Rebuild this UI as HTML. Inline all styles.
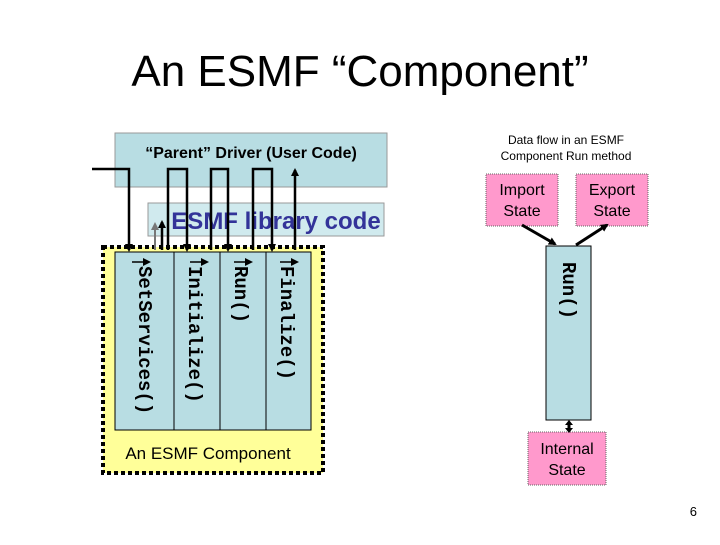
<!DOCTYPE html>
<html><head><style>
body{margin:0;width:720px;height:540px;background:#fff;overflow:hidden;font-family:"Liberation Sans",sans-serif}
</style></head><body>
<svg width="720" height="540" xmlns="http://www.w3.org/2000/svg" font-family="Liberation Sans, sans-serif">
<defs>
<marker id="a" markerWidth="8" markerHeight="8" refX="6" refY="4" orient="auto" markerUnits="userSpaceOnUse"><path d="M0,0L8,4L0,8z" fill="#000"/></marker>
<marker id="g" markerWidth="8" markerHeight="8" refX="6" refY="4" orient="auto" markerUnits="userSpaceOnUse"><path d="M0,0L8,4L0,8z" fill="#777"/></marker>
</defs>
<text x="360" y="86" font-size="44" text-anchor="middle">An ESMF “Component”</text>
<!-- yellow component -->
<rect x="103" y="247" width="220" height="226" fill="#ffff99" stroke="#000" stroke-width="4" stroke-dasharray="4,3"/>
<rect x="115" y="252" width="196" height="178" fill="#b8dde3" stroke="#000" stroke-width="1"/>
<line x1="174" y1="252" x2="174" y2="430" stroke="#000"/>
<line x1="220" y1="252" x2="220" y2="430" stroke="#000"/>
<line x1="266" y1="252" x2="266" y2="430" stroke="#000"/>
<text x="208" y="459" font-size="17" text-anchor="middle">An ESMF Component</text>
<!-- parent -->
<rect x="115" y="133" width="272" height="54" fill="#b8dde3" stroke="#999"/>
<text x="251" y="158" font-size="16" font-weight="bold" text-anchor="middle">“Parent” Driver (User Code)</text>
<rect x="148" y="203" width="236" height="33" fill="#d0eaee" stroke="#999"/>
<text x="276" y="229" font-size="24" font-weight="bold" fill="#333399" text-anchor="middle">ESMF library code</text>
<!-- right -->
<text x="566" y="144" font-size="12" text-anchor="middle">Data flow in an ESMF</text>
<text x="566" y="160" font-size="12" text-anchor="middle">Component Run method</text>
<rect x="486" y="174" width="72" height="52" fill="#ff99cc" stroke="#666" stroke-dasharray="1,1"/>
<rect x="576" y="174" width="72" height="52" fill="#ff99cc" stroke="#666" stroke-dasharray="1,1"/>
<text x="522" y="195" font-size="16" text-anchor="middle">Import</text>
<text x="522" y="216" font-size="16" text-anchor="middle">State</text>
<text x="612" y="195" font-size="16" text-anchor="middle">Export</text>
<text x="612" y="216" font-size="16" text-anchor="middle">State</text>
<rect x="546" y="246" width="45" height="174" fill="#b8dde3" stroke="#000"/>
<rect x="528" y="432" width="78" height="53" fill="#ff99cc" stroke="#666" stroke-dasharray="1,1"/>
<text x="567" y="454" font-size="16" text-anchor="middle">Internal</text>
<text x="567" y="475" font-size="16" text-anchor="middle">State</text>
<g font-family="Liberation Mono, monospace" font-weight="bold" font-size="19">
<text transform="translate(139,266) rotate(90)">SetServices()</text>
<text transform="translate(189,266) rotate(90)">Initialize()</text>
<text transform="translate(235,266) rotate(90)">Run()</text>
<text transform="translate(281,266) rotate(90)">Finalize()</text>
<text transform="translate(563,262) rotate(90)">Run()</text>
</g>
<!-- arrows -->
<g stroke="#000" stroke-width="2.5" fill="none">
<path d="M92,169H129V250" marker-end="url(#a)"/>
<path d="M168,250V169H187V250" marker-end="url(#a)"/>
<path d="M211,250V169H228V250" marker-end="url(#a)"/>
<path d="M253,250V169H272V250" marker-end="url(#a)"/>
<path d="M295,250V170" marker-end="url(#a)"/>
<path d="M162,250V222" marker-end="url(#a)"/>
</g>
<path d="M155,250V224" stroke="#777" stroke-width="2" marker-end="url(#g)"/>
<g stroke="#000" stroke-width="1.5" marker-end="url(#a)">
<line x1="132" y1="262" x2="149" y2="262"/>
<line x1="190" y1="262" x2="207" y2="262"/>
<line x1="234" y1="262" x2="251" y2="262"/>
<line x1="280" y1="262" x2="297" y2="262"/>
</g>
<g stroke="#000" stroke-width="3">
<line x1="522" y1="225" x2="555" y2="244" marker-end="url(#a)"/>
<line x1="576" y1="245" x2="607" y2="225" marker-end="url(#a)"/>
<line x1="569" y1="424" x2="569" y2="429"/>
</g>
<path d="M565,425L569,420L573,425zM565,428L569,433L573,428z" fill="#000"/>
<text x="697" y="516" font-size="13" text-anchor="end">6</text>
</svg>
</body></html>
